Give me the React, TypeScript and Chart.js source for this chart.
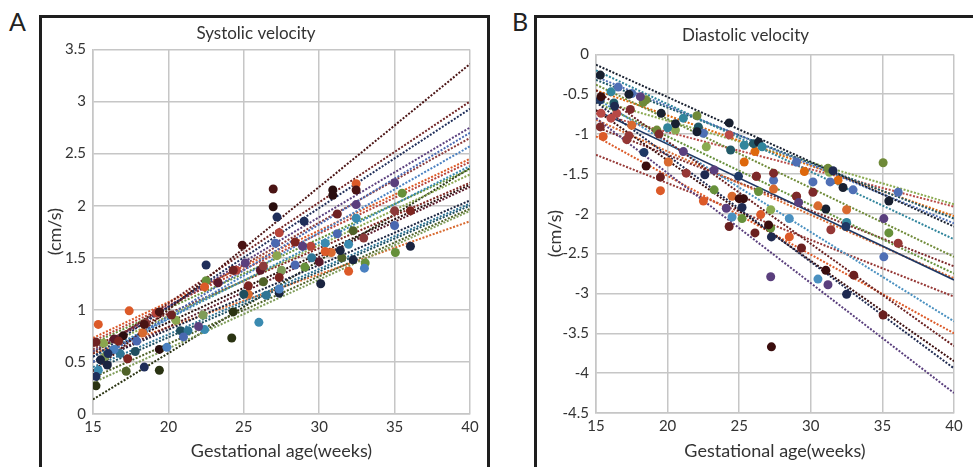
import React, { useEffect, useRef } from "react";
import Chart from "chart.js/auto";

const weekMin = 15;
const weekMax = 40;
const weekStep = 5;

// ---- Panel A: systolic velocity ----
const systolicTitle = "Systolic velocity";
const systolicMin = 0;
const systolicMax = 3.5;
const systolicTrendStart = [0.41, 0.58, 0.55, 0.6, 0.5, 0.62, 0.5, 0.73, 0.7, 0.55, 0.68, 0.6, 0.65, 0.55, 0.5, 0.5, 0.45, 0.42, 0.35, 0.3, 0.58, 0.14];
const systolicTrendEnd = [3.36, 3.0, 2.93, 2.75, 2.7, 2.65, 2.57, 2.45, 2.42, 2.38, 2.35, 2.3, 2.22, 2.2, 2.18, 2.05, 2.02, 2.0, 1.97, 1.95, 1.85, 2.36];
const systolicColors = ["#4a1414", "#6e2222", "#1f2e5a", "#5a3f7d", "#4a68b0", "#8b3a3a", "#4a80c0", "#dc5a28", "#b8443a", "#3a8ab0", "#66903a", "#8aa64e", "#7d2520", "#2a0e0e", "#5a1a2a", "#1a2440", "#2f7595", "#1f4f5f", "#4f6228", "#7f9c58", "#d86a30", "#2a3312"];
const systolicWeeks = [
  [26.95, 24.9, 19.4, 32.45, 18.4],
  [15.2, 31.2, 24.3, 20.2],
  [27.2, 22.5, 18.4, 15.2, 29, 16],
  [35, 32.45, 22, 28.9, 25.1],
  [27.1, 35, 31.2, 21, 28.4, 17.9],
  [32.95, 35, 26.3, 18.5],
  [33, 19.9, 16.4, 27.35],
  [15.35, 17.4, 32.45, 22.4, 31.95, 30.4],
  [27.35, 29.45, 19.2, 24.5],
  [32.45, 30.4, 22.4, 26, 31.95, 15.35],
  [22.5, 35.05, 33.05, 29.05, 35.5],
  [15.7, 27.2, 20.5],
  [27.35, 36.05, 17.3, 28.4, 25.3, 16.7],
  [26.95, 30.9, 30.9, 19.4, 17],
  [30, 26.1, 16.4, 23.3],
  [27.35, 36.05, 30.1, 32.25, 31.4, 15.5, 15.95],
  [26.5, 29.5, 21.3, 16.8],
  [20.8, 25, 17.8],
  [32.25, 26.3, 17.2, 31.5],
  [22.3, 27.5, 15.8],
  [25.3, 18.3, 30.8],
  [24.2, 15.2, 19.4, 24.3],
];
const systolicValues = [
  [2.16, 1.62, 0.98, 2.15, 0.86],
  [0.69, 1.92, 1.38, 0.95],
  [1.89, 1.43, 0.45, 0.36, 1.85, 0.58],
  [2.22, 2.01, 0.84, 1.61, 1.45],
  [1.64, 1.81, 1.73, 0.74, 1.43, 0.7],
  [1.69, 1.95, 1.42, 0.87],
  [1.4, 0.64, 0.62, 1.2],
  [0.86, 0.99, 2.21, 1.22, 1.37, 1.56],
  [1.74, 1.61, 0.97, 1.38],
  [1.88, 1.64, 0.81, 0.88, 1.63, 0.42],
  [1.28, 1.55, 1.45, 1.41, 2.12],
  [0.68, 1.52, 0.9],
  [1.31, 1.95, 0.53, 1.65, 1.23, 0.7],
  [1.99, 2.15, 2.1, 0.62, 0.75],
  [1.46, 1.38, 0.72, 1.26],
  [1.16, 1.61, 1.25, 1.48, 1.57, 0.52, 0.47],
  [1.14, 1.5, 0.8, 0.58],
  [0.8, 1.15, 0.6],
  [1.76, 1.27, 0.41, 1.5],
  [0.95, 1.38, 0.55],
  [1.15, 0.78, 1.55],
  [0.73, 0.27, 0.42, 0.98],
];

// ---- Panel B: diastolic velocity ----
const diastolicTitle = "Diastolic velocity";
const diastolicMin = -4.5;
const diastolicMax = 0;
const diastolicTrendStart = [-0.8, -0.6, -0.7, -0.45, -1.03, -0.55, -1.26, -0.7, -0.82, -0.6, -0.91, -0.38, -0.2, -0.13, -0.28, -0.32, -0.45, -0.57, -0.74];
const diastolicTrendEnd = [-4.25, -3.94, -3.85, -3.66, -3.5, -3.35, -3.04, -2.83, -2.81, -2.75, -2.66, -2.54, -2.32, -2.16, -2.12, -2.06, -2.03, -1.88, -1.91];
const diastolicColors = ["#5a3f7d", "#1f2a50", "#3a0d0d", "#6a2020", "#dc5a28", "#4a90c0", "#953735", "#1f3864", "#d86a30", "#66903a", "#7d2a2a", "#6f8a38", "#31859c", "#182030", "#4f6fb5", "#215968", "#de680c", "#8aaa50", "#b84a46"];
const diastolicWeeks = [
  [27.2, 31.2, 24.1, 29.15, 21.1, 23.25, 18.1, 35.1],
  [32.5, 27.25, 22.6, 16.3, 25.2, 31.55],
  [31.05, 27.05, 25.3, 18.5, 27.25, 15.35, 25],
  [35.05, 33, 29.35, 26.1, 24.3, 19.5],
  [15.5, 19.5, 22.5, 28.5, 26.5],
  [30.5, 24.5, 28.5],
  [17.15, 21.3, 31.4, 36.1, 17.3],
  [15.3, 18.35, 24.95, 32.45],
  [17.5, 20.05, 27.4, 30.5, 32.5, 24.5],
  [25.2, 27.2, 23.25, 26.35, 35.45],
  [15.3, 17.4, 27.4, 30.15, 29, 19.4, 26.2],
  [18.5, 22.05, 19.25, 31.2, 35.05, 18.3],
  [16.05, 25.35, 26.6, 21.1, 32.5, 20.0],
  [15.3, 17.3, 20.55, 24.3, 26.35, 32.25, 35.45, 19.55, 22.05, 31.05],
  [16.55, 17.5, 22.5, 29, 30.15, 32.95, 36.1, 35.1, 27.4, 31.35],
  [16.25, 22.15, 26.0, 24.4],
  [25.35, 29.55, 31.9, 26.1],
  [20.55, 22.7, 31.3, 27.2],
  [16.05, 16.45, 24.3, 26.2, 29, 15.35],
];
const diastolicValues = [
  [-2.79, -2.89, -1.93, -1.86, -1.22, -1.45, -0.53, -2.06],
  [-3.01, -2.29, -1.51, -0.65, -1.92, -1.46],
  [-2.71, -2.14, -1.81, -1.4, -3.67, -0.53, -1.81],
  [-3.27, -2.77, -2.43, -2.24, -2.16, -1.54],
  [-1.03, -1.71, -1.84, -2.29, -2.01],
  [-2.82, -2.04, -2.06],
  [-1.07, -1.49, -2.2, -2.37, -1.02],
  [-0.57, -1.23, -1.53, -2.16],
  [-0.89, -1.35, -1.69, -1.9, -1.95, -1.78],
  [-2.06, -2.18, -1.7, -1.72, -2.24],
  [-0.91, -0.69, -1.49, -1.73, -1.78, -1.0, -1.53],
  [-0.57, -0.77, -0.95, -1.43, -1.36, -0.6],
  [-0.47, -1.14, -1.16, -0.8, -2.11, -0.92],
  [-0.26, -0.5, -0.87, -0.86, -1.1, -1.67, -1.84, -0.74, -0.97, -1.94],
  [-0.41, -0.49, -0.99, -1.35, -1.6, -1.7, -1.73, -2.54, -1.58, -1.6],
  [-0.61, -0.91, -1.12, -1.2],
  [-1.35, -1.47, -1.58, -1.22],
  [-0.95, -1.16, -1.48, -1.95],
  [-0.8, -0.74, -1.01, -1.53, -1.78, -0.74],
];

const xTitle = "Gestational age(weeks)";
const yTitle = "(cm/s)";
const FONT = "Lato, 'Open Sans', sans-serif";
const TEXT = "#333333";
const GRID = "#c6c6c6";

type PanelProps = {
  title: string;
  yMin: number;
  yMax: number;
  starts: number[];
  ends: number[];
  colors: string[];
  weeks: number[][];
  values: number[][];
  solidIndex: number;
  yAxisWidth: number;
  yTitlePad: number;
  titlePad: { top: number; bottom: number };
  xAxisHeight: number;
  rightPad: number;
  width: number;
  height: number;
};

function Panel(p: PanelProps) {
  const ref = useRef<HTMLCanvasElement | null>(null);
  useEffect(() => {
    if (!ref.current) return;
    const datasets: any[] = [];
    p.starts.forEach((s, i) => {
      datasets.push({
        type: "line",
        data: [
          { x: weekMin, y: s },
          { x: weekMax, y: p.ends[i] },
        ],
        borderColor: p.colors[i],
        borderWidth: i === p.solidIndex ? 1.6 : 2,
        borderDash: i === p.solidIndex ? [] : [2, 1.6],
        pointRadius: 0,
        fill: false,
        order: 1,
      });
    });
    p.weeks.forEach((ws, i) => {
      datasets.push({
        type: "scatter",
        data: ws.map((w, j) => ({ x: w, y: p.values[i][j] })),
        backgroundColor: p.colors[i],
        borderWidth: 0,
        pointRadius: 4.5,
        order: 0,
      });
    });
    const chart = new Chart(ref.current, {
      type: "scatter",
      data: { datasets },
      options: {
        animation: false,
        responsive: false,
        layout: { padding: { left: 0, right: p.rightPad, top: 0, bottom: 0 } },
        plugins: {
          legend: { display: false },
          tooltip: { enabled: false },
          title: {
            display: true,
            text: p.title,
            color: TEXT,
            font: { family: FONT, size: 17, weight: "normal" },
            padding: p.titlePad,
          },
        },
        scales: {
          x: {
            type: "linear",
            min: weekMin,
            max: weekMax,
            ticks: { stepSize: weekStep, color: TEXT, padding: 4, font: { family: FONT, size: 15 } },
            grid: { color: GRID, lineWidth: 1.5, drawTicks: false },
            border: { color: GRID, width: 1.5 },
            title: {
              display: true,
              text: xTitle,
              color: TEXT,
              font: { family: FONT, size: 18 },
              padding: { top: 0, bottom: 5 },
            },
            afterFit: (s: any) => {
              s.height = p.xAxisHeight;
            },
          },
          y: {
            type: "linear",
            min: p.yMin,
            max: p.yMax,
            ticks: {
              stepSize: 0.5,
              color: TEXT,
              padding: 7,
              font: { family: FONT, size: 15 },
              callback: (v: any) => String(Math.round(Number(v) * 10) / 10),
            },
            grid: { color: GRID, lineWidth: 1.5, drawTicks: false },
            border: { color: GRID, width: 1.5 },
            title: {
              display: true,
              text: yTitle,
              color: TEXT,
              font: { family: FONT, size: 18 },
              padding: { top: p.yTitlePad, bottom: 0 },
            },
            afterFit: (s: any) => {
              s.width = p.yAxisWidth;
            },
          },
        },
      } as any,
    });
    return () => chart.destroy();
  }, []);
  return <canvas ref={ref} width={p.width} height={p.height} style={{ width: p.width, height: p.height, display: "block" }} />;
}

export default function App() {
  const label: React.CSSProperties = {
    position: "absolute",
    fontFamily: FONT,
    fontSize: 25,
    color: "#222",
    lineHeight: "25px",
  };
  return (
    <div style={{ position: "fixed", left: 0, top: 0, width: 973, height: 467, overflow: "hidden", background: "#fff" }}>
      <div style={{ ...label, left: 9, top: 9 }}>A</div>
      <div style={{ ...label, left: 512, top: 9 }}>B</div>
      <div
        style={{
          position: "absolute",
          left: 39,
          top: 15,
          width: 451,
          height: 470,
          boxSizing: "border-box",
          border: "3px solid #1e1e1e",
          borderBottom: "none",
        }}
      />
      <div
        style={{
          position: "absolute",
          left: 534,
          top: 15,
          width: 460,
          height: 470,
          boxSizing: "border-box",
          border: "3px solid #1e1e1e",
          borderBottom: "none",
          borderRight: "none",
        }}
      />
      <div style={{ position: "absolute", left: 42, top: 18 }}>
        <Panel
          title={systolicTitle}
          yMin={systolicMin}
          yMax={systolicMax}
          starts={systolicTrendStart}
          ends={systolicTrendEnd}
          colors={systolicColors}
          weeks={systolicWeeks}
          values={systolicValues}
          solidIndex={-1}
          yAxisWidth={51}
          yTitlePad={2}
          titlePad={{ top: 5, bottom: 6 }}
          xAxisHeight={53}
          rightPad={18}
          width={446}
          height={449}
        />
      </div>
      <div style={{ position: "absolute", left: 537, top: 18 }}>
        <Panel
          title={diastolicTitle}
          yMin={diastolicMin}
          yMax={diastolicMax}
          starts={diastolicTrendStart}
          ends={diastolicTrendEnd}
          colors={diastolicColors}
          weeks={diastolicWeeks}
          values={diastolicValues}
          solidIndex={7}
          yAxisWidth={59}
          yTitlePad={7}
          titlePad={{ top: 7, bottom: 9 }}
          xAxisHeight={54}
          rightPad={19}
          width={436}
          height={449}
        />
      </div>
    </div>
  );
}
